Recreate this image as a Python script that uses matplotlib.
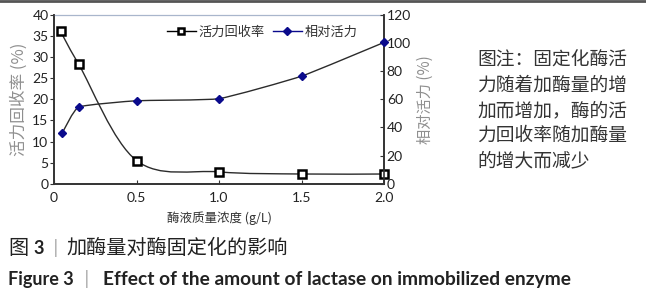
import matplotlib
matplotlib.use("Agg")
import matplotlib.pyplot as plt
import numpy as np
from matplotlib.path import Path
from matplotlib.patches import PathPatch
from matplotlib.lines import Line2D

plt.rcParams['font.family'] = ['Noto Sans CJK SC', 'DejaVu Sans']

# ---- data ----
conc_recovery = [0.04, 0.15, 0.5, 1.0, 1.5, 2.0]
recovery_rate = [36.1, 28.3, 5.5, 2.8, 2.3, 2.3]
conc_activity = [0.05, 0.15, 0.5, 1.0, 1.5, 2.0]
relative_activity = [36.0, 54.5, 59.0, 60.5, 76.5, 100.5]

series_names = ["活力回收率", "相对活力"]
xlabel = "酶液质量浓度 (g/L)"
ylabel_left = "活力回收率 (%)"
ylabel_right = "相对活力 (%)"
xticks = [0, 0.5, 1.0, 1.5, 2.0]
xtick_labels = ["0", "0.5", "1.0", "1.5", "2.0"]
yticks_left = [0, 5, 10, 15, 20, 25, 30, 35, 40]
yticks_right = [0, 20, 40, 60, 80, 100, 120]
note = "图注：固定化酶活\n力随着加酶量的增\n加而增加，酶的活\n力回收率随加酶量\n的增大而减少"

W, H = 646, 300
fig = plt.figure(figsize=(W / 100, H / 100), dpi=100)
ax = fig.add_axes([54 / W, 1 - 183.7 / H, (384 - 54) / W, (183.7 - 15) / H])
ax2 = ax.twinx()

ax.set_xlim(0, 2.0)
ax.set_ylim(0, 40)
ax2.set_ylim(0, 120)


def smooth_path(axis, xs, ys, color, lw, tension):
    """Smoothed line through the points (Bezier), computed in normalized space."""
    x0, x1 = axis.get_xlim()
    y0, y1 = axis.get_ylim()
    px = (np.asarray(xs, float) - x0) / (x1 - x0)
    py = (np.asarray(ys, float) - y0) / (y1 - y0)
    pts = np.column_stack([px, py])
    n = len(pts)
    verts = [pts[0]]
    codes = [Path.MOVETO]
    for i in range(n - 1):
        p0 = pts[i - 1] if i > 0 else pts[i]
        p1 = pts[i]
        p2 = pts[i + 1]
        p3 = pts[i + 2] if i + 2 < n else pts[i + 1]
        c1 = p1 + (p2 - p0) * tension
        c2 = p2 - (p3 - p1) * tension
        verts += [c1, c2, p2]
        codes += [Path.CURVE4] * 3
    verts = np.array(verts)
    verts[:, 0] = verts[:, 0] * (x1 - x0) + x0
    verts[:, 1] = verts[:, 1] * (y1 - y0) + y0
    patch = PathPatch(Path(verts, codes), facecolor='none', edgecolor=color,
                      lw=lw, transform=axis.transData, zorder=2, clip_on=False)
    axis.add_patch(patch)


line_color = '#2b2b2b'
navy = '#0a0a8c'
smooth_path(ax, conc_recovery, recovery_rate, line_color, 1.0, 1 / 6)
smooth_path(ax2, conc_activity, relative_activity, line_color, 1.0, 1 / 14)

ax.plot(conc_recovery, recovery_rate, linestyle='none', marker='s', markersize=5.5,
        markerfacecolor='white', markeredgecolor='black', markeredgewidth=1.8,
        zorder=4, clip_on=False)
ax2.plot(conc_activity, relative_activity, linestyle='none', marker='D', markersize=4.5,
         markerfacecolor=navy, markeredgecolor=navy, zorder=4, clip_on=False)

# axes styling
tick_font = dict(family=['Lato', 'DejaVu Sans'], size=10, color='#222222')
ax.set_xticks(xticks)
ax.set_xticklabels(xtick_labels, **tick_font)
ax.set_yticks(yticks_left)
ax.set_yticklabels([str(v) for v in yticks_left], **tick_font)
ax2.set_yticks(yticks_right)
ax2.set_yticklabels([str(v) for v in yticks_right], **tick_font)

ax.tick_params(axis='x', direction='in', length=3, width=0.8, pad=6, colors='#333333')
ax.tick_params(axis='y', direction='out', length=3, width=0.8, pad=1, colors='#333333')
ax2.tick_params(axis='y', direction='in', length=3, width=0.8, pad=2, colors='#333333')
for t in ax.get_xticklabels() + ax.get_yticklabels() + ax2.get_yticklabels():
    t.set_color('#222222')

ax2.spines['top'].set_visible(False)
ax.spines['top'].set_color('#a9b6cc')
ax.spines['top'].set_linewidth(0.9)
for a in (ax, ax2):
    for s in ('left', 'right', 'bottom'):
        a.spines[s].set_color('#333333')
        a.spines[s].set_linewidth(1.2)

ax.set_xlabel(xlabel, fontsize=9, color='#333333', labelpad=5)
ax.set_ylabel(ylabel_left, fontsize=12, color='#8f8f8f', labelpad=3)
ax2.set_ylabel(ylabel_right, fontsize=11, color='#8f8f8f', labelpad=4)

# legend
h1 = Line2D([], [], color='black', lw=1.0, marker='s', markersize=5,
            markerfacecolor='white', markeredgecolor='black', markeredgewidth=1.8)
h2 = Line2D([], [], color=navy, lw=1.0, marker='D', markersize=4,
            markerfacecolor=navy, markeredgecolor=navy)
leg = ax.legend([h1, h2], series_names, loc='center', bbox_to_anchor=(262 / W, 1 - 32 / H),
                bbox_transform=fig.transFigure, ncol=2, frameon=False, fontsize=9.5,
                handlelength=2.2, handletextpad=0.2, columnspacing=0.6)
for t in leg.get_texts():
    t.set_color('#333333')

# note
fig.text(477 / W, 1 - 50 / H, note, fontsize=13.5, color='#333333', va='top',
         ha='left', linespacing=1.25)

# captions
fig.text(8 / W, 1 - 248 / H, "图", fontsize=14.5, color='#222222', va='center')
fig.text(33 / W, 1 - 248 / H, "3", fontsize=13, fontweight='bold', color='#222222',
         va='center', family=['Lato', 'DejaVu Sans'])
fig.text(53 / W, 1 - 248 / H, "|", fontsize=12, color='#aaaaaa', va='center',
         family=['DejaVu Sans'])
fig.text(66 / W, 1 - 248 / H, "加酶量对酶固定化的影响", fontsize=14.5, color='#222222', va='center')
fig.text(8 / W, 1 - 279 / H, "Figure 3", fontsize=13, fontweight='bold', color='#222222',
         va='center', family=['Lato', 'DejaVu Sans'])
fig.text(84 / W, 1 - 279 / H, "|", fontsize=12, color='#aaaaaa', va='center',
         family=['DejaVu Sans'])
fig.text(103 / W, 1 - 279 / H, "Effect of the amount of lactase on immobilized enzyme",
         fontsize=13.8, fontweight='bold', color='#222222', va='center',
         family=['Lato', 'DejaVu Sans'])

# top border line
fig.add_artist(Line2D([0, 1], [1 - 1.0 / H, 1 - 1.0 / H], transform=fig.transFigure,
                      color='#555555', lw=2.0))

fig.savefig("out.png", dpi=100)
